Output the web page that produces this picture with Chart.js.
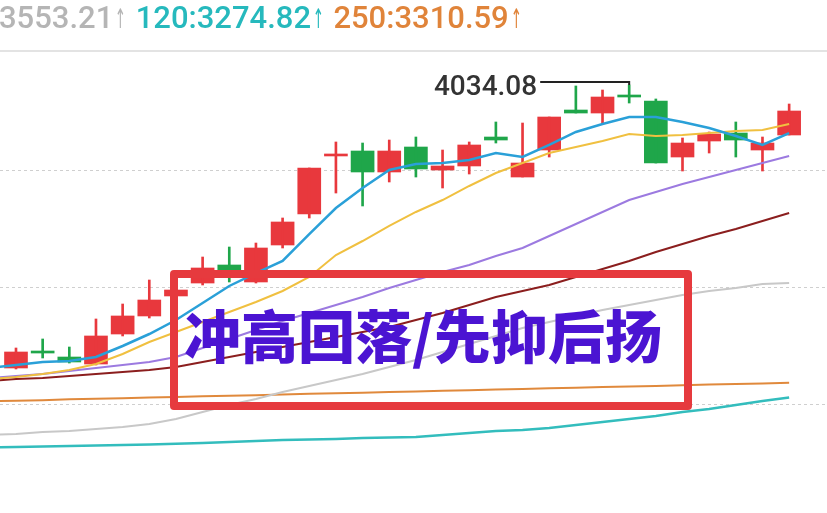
<!DOCTYPE html>
<html>
<head>
<meta charset="utf-8">
<script src="https://cdn.jsdelivr.net/npm/chart.js@4"></script>
<style>
html, body { margin: 0; padding: 0; background: #fff; width: 827px; height: 513px; overflow: hidden; }
#wrap { position: relative; width: 827px; height: 513px; }
#chart { position: absolute; left: 0; top: 0; }
.legend { position: absolute; left: -1px; top: -1px; height: 36px; line-height: 36px; white-space: nowrap; font: 500 31px Roboto, sans-serif; }
.legend span { margin-right: 0; }
.legend i { font-style: normal; display: inline-block; font: 27px "DejaVu Sans"; transform: scaleX(0.5); margin: 0 -4px 0 -4px; }
.sep { position: absolute; left: 0; top: 50px; width: 827px; height: 2px; background: #e3e3e3; }
.box { position: absolute; left: 170px; top: 270px; width: 506px; height: 124px; border: 8px solid #e63a3e; border-radius: 4px; }
.box div { position: absolute; left: 6px; top: 27px; font: 900 57px "Noto Sans CJK SC"; line-height: 57px; color: #4b14d2; white-space: nowrap; }
</style>
</head>
<body>
<div id="wrap">
  <canvas id="chart" width="827" height="513"></canvas>
  <div class="sep"></div>
  <div class="legend">
    <span style="color:#b5b5b5">3553.21<i>↑</i></span>
    <span style="color:#26b9bd">120:3274.82<i>↑</i></span>
    <span style="color:#e0843a">250:3310.59<i>↑</i></span>
  </div>
  <div class="box"><div>冲高回落/先抑后扬</div></div>
</div>
<script>
// daily candles, left to right
const open  = [3346.4, 3387.7, 3373.1, 3356.1, 3429.0, 3472.8, 3521.4, 3552.9, 3596.7, 3555.4,
               3645.3, 3720.6, 3861.6, 3873.7, 3822.7, 3883.4, 3827.5, 3837.3, 3907.7, 3810.5,
               3876.1, 3973.3, 3966.0, 4009.8, 3995.2, 3859.1, 3898.0, 3917.4, 3876.1, 3912.6]
const high  = [3395.0, 3416.9, 3397.4, 3465.5, 3501.9, 3560.2, 3548.1, 3616.1, 3640.4, 3650.1,
               3710.9, 3832.4, 3895.6, 3893.1, 3900.4, 3907.7, 3876.1, 3895.6, 3944.2, 3941.7,
               3956.3, 4031.7, 4021.9, 4034.08, 4000.1, 3905.3, 3919.9, 3944.2, 3907.7, 3987.9]
const low   = [3344.0, 3370.7, 3358.5, 3353.7, 3424.2, 3467.9, 3511.6, 3548.1, 3555.4, 3552.9,
               3638.0, 3710.9, 3771.6, 3740.1, 3798.4, 3810.5, 3783.8, 3817.8, 3893.1, 3810.5,
               3859.1, 3966.0, 3941.7, 3990.3, 3844.5, 3825.1, 3868.8, 3859.1, 3825.1, 3912.6]
const close = [3385.3, 3382.8, 3361.0, 3424.2, 3472.8, 3511.6, 3535.9, 3589.4, 3584.5, 3638.0,
               3701.2, 3832.4, 3866.4, 3822.7, 3873.7, 3830.0, 3837.3, 3888.3, 3900.4, 3844.5,
               3956.3, 3966.0, 4004.9, 4004.9, 3844.5, 3893.1, 3915.0, 3900.4, 3893.1, 3970.9]

// moving averages, first value is the session just left of the first candle
const ma5   = [3346.4, 3353.7, 3361.0, 3363.4, 3373.1, 3399.9, 3429.0, 3463.0, 3504.3, 3545.7, 3577.2,
               3606.4, 3672.0, 3735.2, 3783.8, 3827.5, 3842.1, 3844.5, 3851.8, 3868.8, 3859.1,
               3888.3, 3919.9, 3939.3, 3956.3, 3956.3, 3944.2, 3929.6, 3910.2, 3888.3, 3917.4]
const ma10  = [3319.7, 3324.5, 3331.8, 3341.5, 3356.1, 3380.4, 3409.6, 3433.9, 3458.2, 3482.5, 3506.8,
               3533.5, 3567.5, 3621.0, 3655.0, 3691.5, 3725.5, 3754.6, 3788.7, 3820.2, 3844.5,
               3868.8, 3883.4, 3898.0, 3915.0, 3910.2, 3912.6, 3917.4, 3922.3, 3924.7, 3939.3]
const ma20  = [3322.1, 3327.0, 3331.8, 3339.1, 3346.4, 3353.7, 3361.0, 3373.1, 3395.0, 3416.9, 3438.7,
               3460.6, 3480.0, 3499.5, 3518.9, 3540.8, 3560.2, 3579.7, 3596.7, 3618.6, 3638.0,
               3667.2, 3696.3, 3725.5, 3754.6, 3774.1, 3793.5, 3810.5, 3827.5, 3844.5, 3861.6]
const ma30  = [3314.8, 3319.7, 3322.1, 3327.0, 3331.8, 3336.7, 3341.5, 3348.8, 3361.0, 3373.1, 3385.3,
               3397.4, 3409.6, 3421.7, 3433.9, 3446.0, 3463.0, 3480.0, 3499.5, 3518.9, 3533.5,
               3548.1, 3567.5, 3587.0, 3606.4, 3628.3, 3647.7, 3667.2, 3684.2, 3703.6, 3723.0]
const ma60  = [3183.6, 3186.0, 3190.9, 3193.3, 3198.2, 3203.0, 3210.3, 3222.5, 3239.5, 3256.5, 3271.1,
               3288.1, 3302.7, 3317.2, 3331.8, 3348.8, 3365.8, 3385.3, 3404.7, 3424.2, 3443.6,
               3458.2, 3472.8, 3487.3, 3499.5, 3511.6, 3523.8, 3533.5, 3540.8, 3550.5, 3553.21]
const ma120 = [3153.7, 3154.4, 3155.6, 3156.9, 3158.1, 3159.3, 3160.5, 3162.2, 3164.1, 3166.6, 3169.0,
               3171.4, 3172.6, 3173.9, 3176.3, 3177.5, 3178.7, 3183.6, 3188.4, 3193.3, 3195.7,
               3200.6, 3207.9, 3215.2, 3222.5, 3229.8, 3239.5, 3246.8, 3256.5, 3266.2, 3274.82]
const ma250 = [3265.4, 3267.1, 3268.3, 3270.2, 3271.4, 3273.1, 3274.6, 3275.8, 3277.6, 3279.1, 3280.3,
               3282.0, 3283.6, 3284.9, 3286.4, 3288.1, 3289.4, 3291.0, 3292.6, 3293.9, 3295.5,
               3297.1, 3298.4, 3300.0, 3301.6, 3302.9, 3304.5, 3306.1, 3307.4, 3309.0, 3310.59]

const gridValues = [3827.5, 3542.0, 3256.5]

const up = '#e8383d'
const down = '#1fa64a'
const candleColors = close.map((c, i) => c >= open[i] ? up : down)
const maPoints = arr => arr.map((v, i) => ({x: i - 1, y: v}))

const maLine = (data, color, width) => ({
  type: 'line',
  data: maPoints(data),
  borderColor: color,
  borderWidth: width,
  pointRadius: 0,
  tension: 0,
  order: 0
})

// high marker: short hook from the top candle to the value label
const maxMarker = {
  id: 'maxMarker',
  afterDatasetsDraw(chart) {
    const {ctx, scales: {x, y}} = chart
    let k = 0
    high.forEach((h, i) => { if (h > high[k]) k = i })
    const px = x.getPixelForValue(k)
    const py = y.getPixelForValue(high[k])
    const ly = py - 3
    const lx = px - 89
    ctx.save()
    ctx.strokeStyle = '#222'
    ctx.lineWidth = 2
    ctx.beginPath()
    ctx.moveTo(px, py)
    ctx.lineTo(px, ly)
    ctx.lineTo(lx, ly)
    ctx.stroke()
    ctx.fillStyle = '#333'
    ctx.font = '500 28px Roboto'
    ctx.textAlign = 'right'
    ctx.textBaseline = 'middle'
    ctx.fillText(high[k].toFixed(2), lx - 3, ly + 6)
    ctx.restore()
  }
}

new Chart(document.getElementById('chart').getContext('2d'), {
  type: 'bar',
  data: {
    datasets: [
      maLine(ma5, '#2aa0d8', 2.5),
      maLine(ma10, '#f0c040', 2),
      maLine(ma20, '#9c7ae0', 2),
      maLine(ma30, '#8b1e1e', 2),
      maLine(ma60, '#c8c8c8', 2),
      maLine(ma120, '#33bdbd', 2.5),
      maLine(ma250, '#e0893c', 2),
      {
        data: open.map((o, i) => ({x: i, y: [low[i], high[i]]})),
        backgroundColor: candleColors,
        barThickness: 2,
        grouped: false,
        order: 1
      },
      {
        data: open.map((o, i) => ({x: i, y: [o, close[i]]})),
        backgroundColor: candleColors,
        barThickness: 23,
        minBarLength: 2,
        grouped: false,
        order: 1
      }
    ]
  },
  options: {
    responsive: false,
    animation: false,
    layout: { padding: { top: 52, left: 0, right: 0, bottom: 0 } },
    plugins: { legend: { display: false }, tooltip: { enabled: false } },
    scales: {
      x: { type: 'linear', min: -0.6, max: 30.42, display: false, offset: false },
      y: {
        min: 2994.04,
        max: 4114.27,
        position: 'right',
        border: { display: false, dash: [3, 3] },
        grid: { color: '#cfcfcf', drawTicks: false, tickLength: 0 },
        ticks: { display: false },
        afterBuildTicks: axis => { axis.ticks = gridValues.map(v => ({value: v})) }
      }
    }
  },
  plugins: [maxMarker]
})
</script>
</body>
</html>
